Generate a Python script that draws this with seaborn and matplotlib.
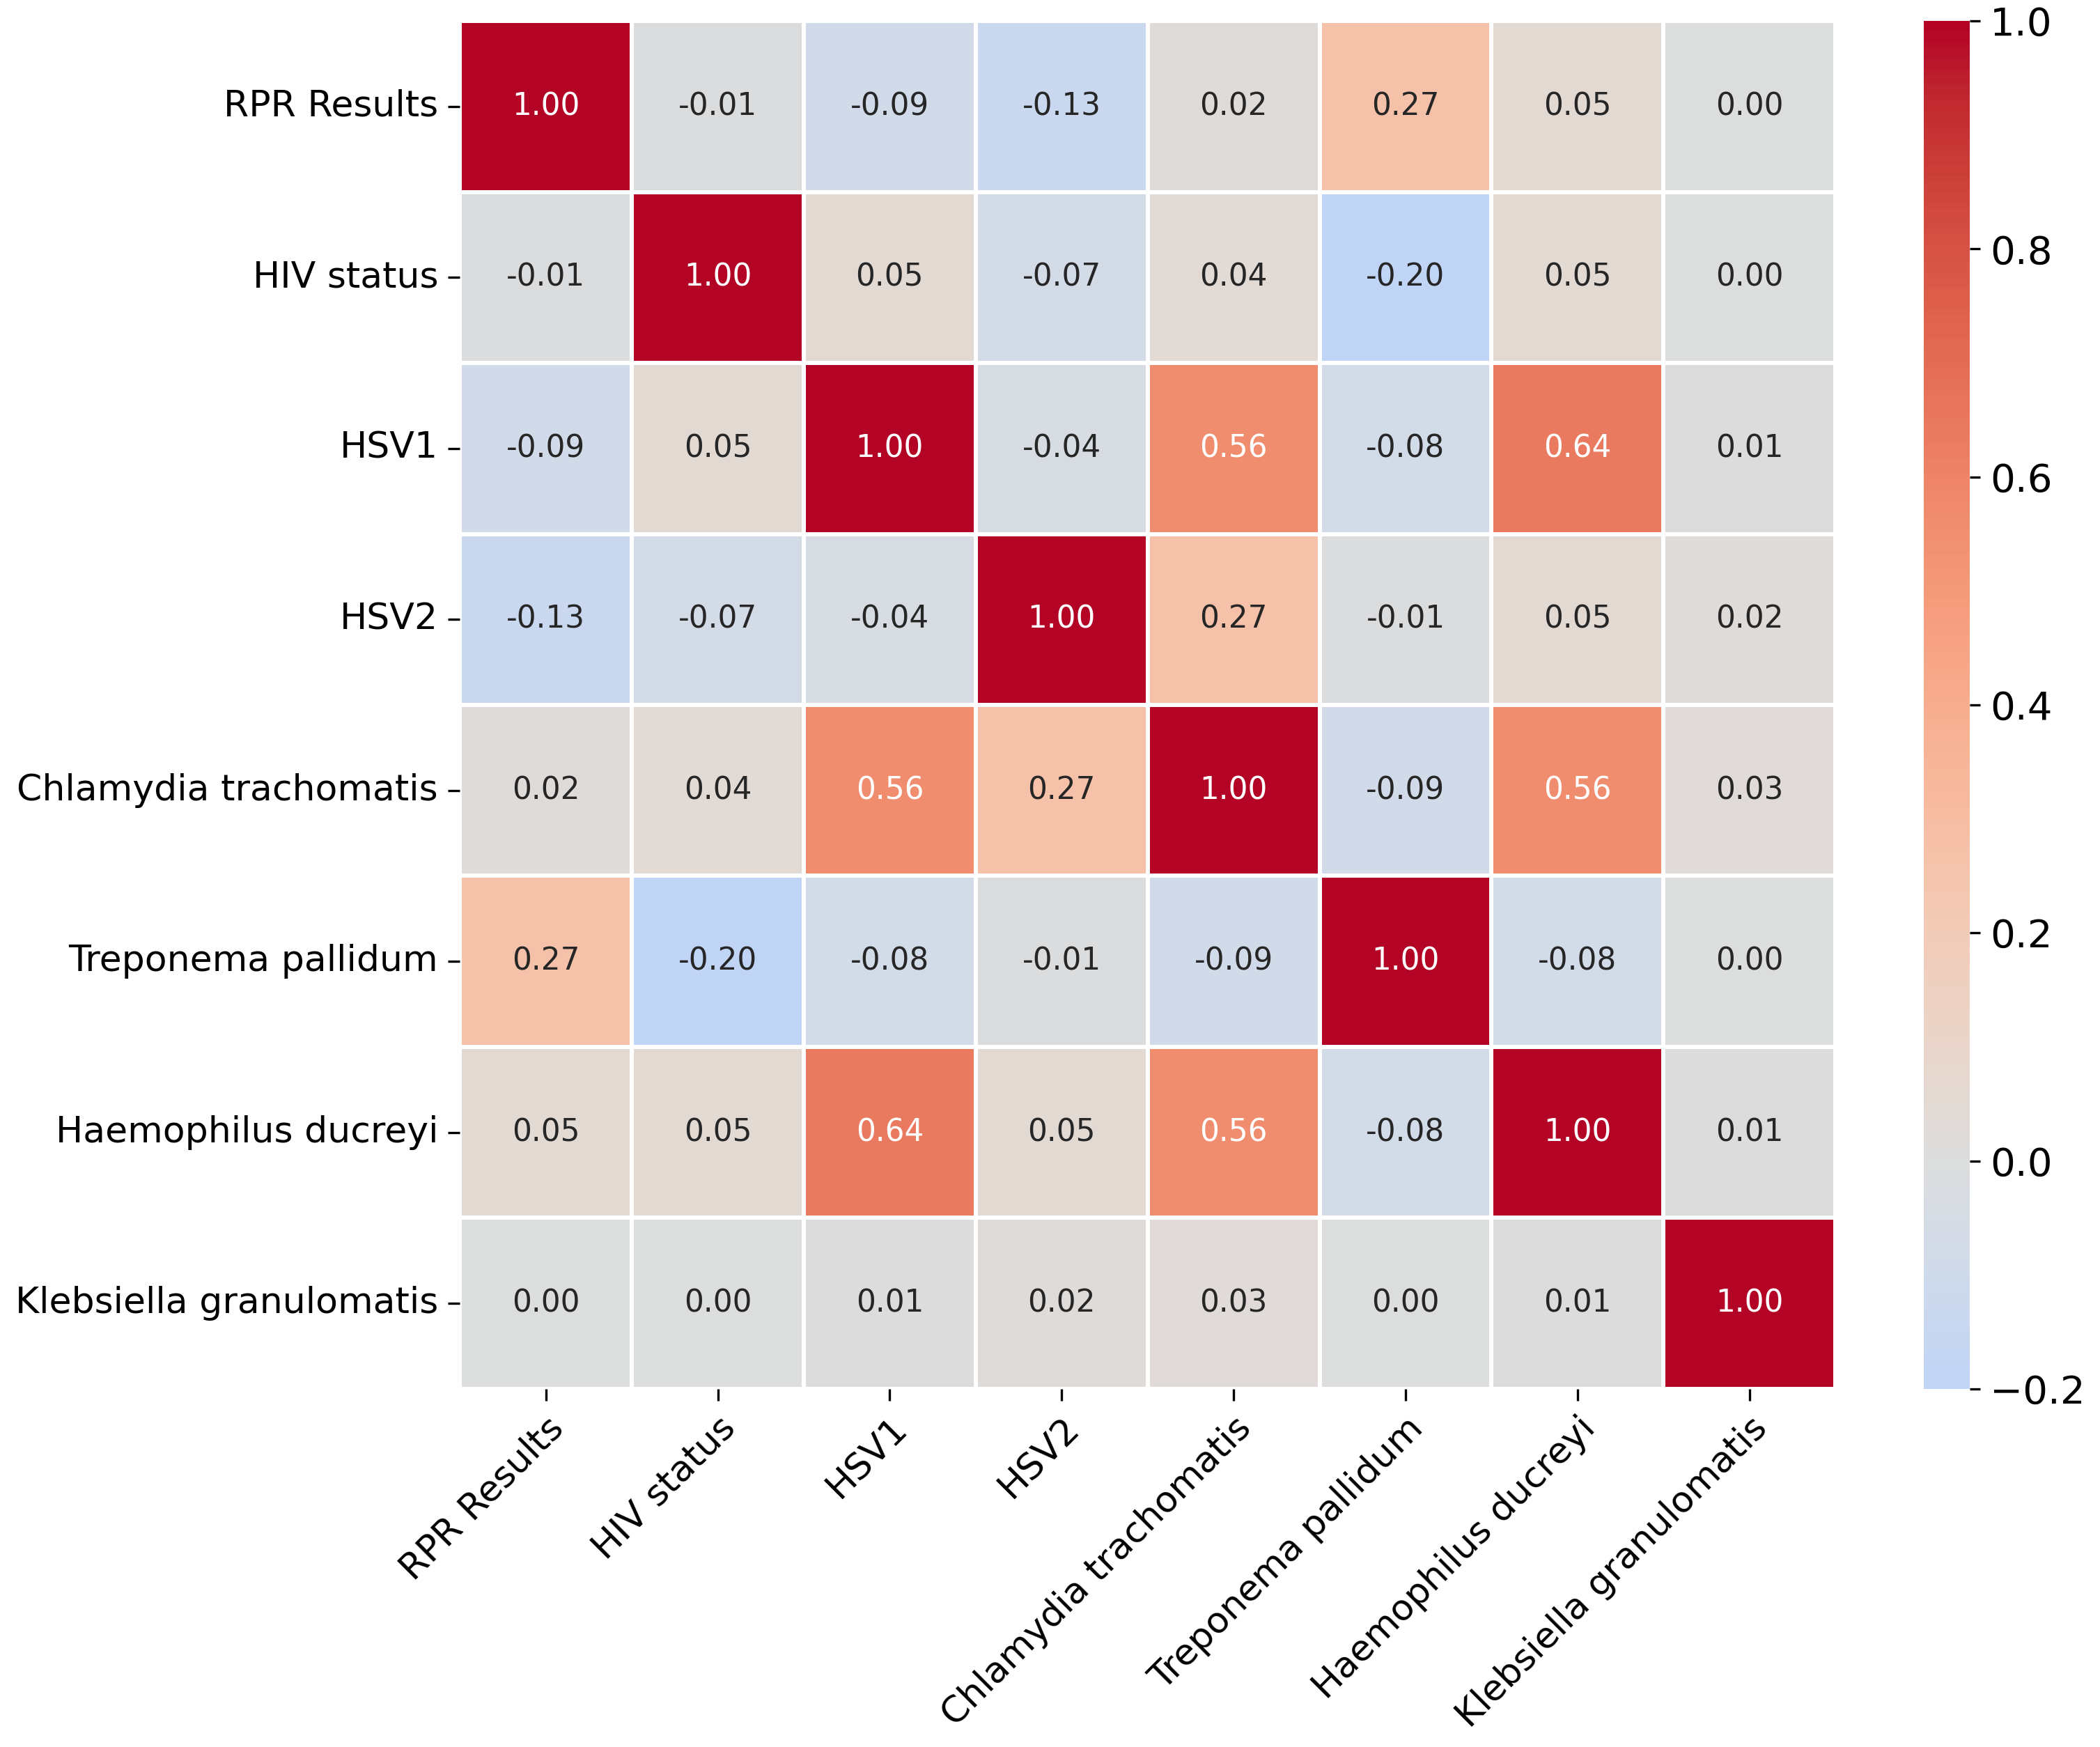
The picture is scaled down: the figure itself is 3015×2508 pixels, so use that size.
# Correlation heatmap of STI test results
import numpy as np
import pandas as pd
import seaborn as sns
import matplotlib.pyplot as plt

labels = ["RPR Results", "HIV status", "HSV1", "HSV2",
          "Chlamydia trachomatis", "Treponema pallidum",
          "Haemophilus ducreyi", "Klebsiella granulomatis"]

rpr = [1.00, -0.01, -0.09, -0.13, 0.02, 0.27, 0.05, 0.00]
hiv = [-0.01, 1.00, 0.05, -0.07, 0.04, -0.20, 0.05, 0.00]
hsv1 = [-0.09, 0.05, 1.00, -0.04, 0.56, -0.08, 0.64, 0.01]
hsv2 = [-0.13, -0.07, -0.04, 1.00, 0.27, -0.01, 0.05, 0.02]
chlam = [0.02, 0.04, 0.56, 0.27, 1.00, -0.09, 0.56, 0.03]
trep = [0.27, -0.20, -0.08, -0.01, -0.09, 1.00, -0.08, 0.00]
haem = [0.05, 0.05, 0.64, 0.05, 0.56, -0.08, 1.00, 0.01]
kleb = [0.00, 0.00, 0.01, 0.02, 0.03, 0.00, 0.01, 1.00]

corr = pd.DataFrame([rpr, hiv, hsv1, hsv2, chlam, trep, haem, kleb],
                    index=labels, columns=labels)

fig = plt.figure(figsize=(10.05, 8.36), dpi=300)
ax = fig.add_axes([0.219, 0.205, 0.655, 0.783])
cax = fig.add_axes([0.916, 0.205, 0.022, 0.783])

hm = sns.heatmap(corr, annot=True, fmt=".2f", cmap="coolwarm",
                 center=0, vmin=-0.2, vmax=1.0, linewidths=1,
                 linecolor="white", ax=ax, cbar_ax=cax,
                 annot_kws={"size": 10.5})

ax.set_xticklabels(labels, rotation=45, ha="right", rotation_mode="anchor",
                   fontsize=12.5)
ax.set_yticklabels(labels, rotation=0, fontsize=12.5)
ax.tick_params(axis="both", length=4)
cax.tick_params(labelsize=13.5)
cax.set_yticks([-0.2, 0.0, 0.2, 0.4, 0.6, 0.8, 1.0])

fig.savefig("out.png", dpi=300)
